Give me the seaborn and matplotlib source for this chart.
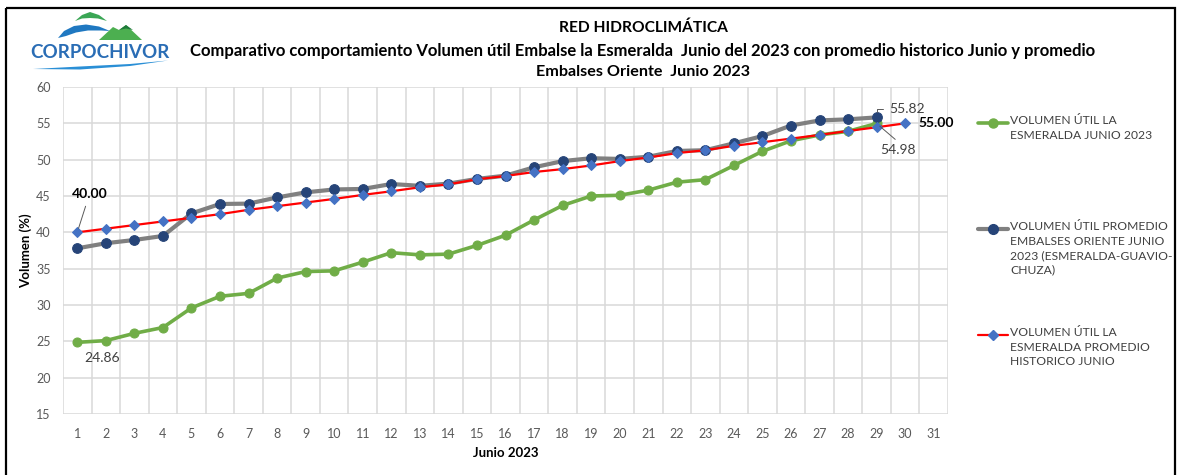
import seaborn as sns
import matplotlib.pyplot as plt
import pandas as pd
from matplotlib.lines import Line2D
from matplotlib.patches import Polygon, Rectangle


dias = list(range(1, 32))

esmeralda_2023 = [24.86, 25.1, 26.1, 26.9, 29.6, 31.2, 31.6, 33.7, 34.6, 34.7,
                  35.9, 37.2, 36.9, 37.0, 38.2, 39.6, 41.7, 43.7, 45.0, 45.1,
                  45.8, 46.9, 47.25, 49.2, 51.15, 52.6, 53.4, 53.9, 54.98]
oriente_2023 = [37.8, 38.5, 38.95, 39.5, 42.6, 43.9, 43.95, 44.8, 45.5, 45.9,
                45.97, 46.65, 46.4, 46.7, 47.35, 47.8, 48.95, 49.8, 50.2, 50.1,
                50.4, 51.2, 51.3, 52.25, 53.25, 54.7, 55.4, 55.55, 55.82]
historico_junio = [40.0, 40.5, 41.0, 41.5, 42.0, 42.5, 43.1, 43.6, 44.1, 44.6,
                   45.15, 45.65, 46.2, 46.6, 47.3, 47.75, 48.3, 48.7, 49.2, 49.8,
                   50.3, 50.9, 51.3, 51.9, 52.4, 52.9, 53.4, 53.95, 54.46, 55.0]

etiquetas = [
    'VOLUMEN ÚTIL LA\nESMERALDA JUNIO 2023',
    'VOLUMEN ÚTIL PROMEDIO\nEMBALSES ORIENTE JUNIO\n2023 (ESMERALDA-GUAVIO-\nCHUZA)',
    'VOLUMEN ÚTIL LA\nESMERALDA PROMEDIO\nHISTORICO JUNIO',
]

titulo = ['RED HIDROCLIMÁTICA',
          'Comparativo comportamiento Volumen útil Embalse la Esmeralda  Junio del 2023 '
          'con promedio historico Junio y promedio',
          'Embalses Oriente  Junio 2023']

df_esm = pd.DataFrame({'dia': dias[:len(esmeralda_2023)], 'valor': esmeralda_2023})
df_ori = pd.DataFrame({'dia': dias[:len(oriente_2023)], 'valor': oriente_2023})
df_his = pd.DataFrame({'dia': dias[:len(historico_junio)], 'valor': historico_junio})

sns.set_theme(style='white')
plt.rcParams['font.family'] = ['Lato', 'DejaVu Sans']

W, H = 1182, 475
fig = plt.figure(figsize=(W / 100, H / 100), dpi=100)

# overlay in pixel coords for frame, logo and legend
bg = fig.add_axes([0, 0, 1, 1], zorder=0)
bg.set_xlim(0, W)
bg.set_ylim(H, 0)
bg.axis('off')
bg.patch.set_alpha(0)

ax = fig.add_axes([63 / W, 1 - 414 / H, (948 - 63) / W, (414 - 87) / H], zorder=1)

estilos = [
    (df_esm, dict(color='#70ad47', linewidth=2.6, marker='o', markersize=6.5,
                  markerfacecolor='#70ad47', markeredgecolor='#70ad47')),
    (df_ori, dict(color='#808080', linewidth=3.0, marker='o', markersize=7,
                  markerfacecolor='#264478', markeredgecolor='#264478')),
    (df_his, dict(color='#ff0000', linewidth=1.6, marker='D', markersize=5,
                  markerfacecolor='#4472c4', markeredgecolor='#4472c4')),
]
for data, kw in estilos:
    sns.lineplot(data=data, x='dia', y='valor', ax=ax, **kw)

ax.set_xlim(0.5, 31.5)
ax.set_ylim(15, 60)
ax.set_xticks(dias)
ax.set_xticks([d + 0.5 for d in [0] + dias], minor=True)
ax.set_yticks(range(15, 61, 5))
ax.grid(True, which='major', axis='y', color='#d9d9d9', linewidth=1.1)
ax.grid(True, which='minor', axis='x', color='#d9d9d9', linewidth=1.1)
ax.grid(False, which='major', axis='x')
ax.set_axisbelow(True)
for s in ax.spines.values():
    s.set_visible(False)
ax.tick_params(which='both', length=0)
ax.tick_params(axis='x', pad=10, labelsize=9, labelcolor='#595959')
ax.tick_params(axis='y', pad=9, labelsize=9, labelcolor='#595959')
ax.set_xlabel('Junio 2023', fontsize=9.5, fontweight='bold', color='black', labelpad=5)
ax.set_ylabel('Volumen (%)', fontsize=9.5, fontweight='bold', color='black', labelpad=3)

# data labels
txt = dict(textcoords='offset pixels', fontsize=10, color='#404040')
linea = dict(arrowstyle='-', color='#595959', lw=0.7)
ax.annotate(f'{historico_junio[0]:.2f}', (1, historico_junio[0]), xytext=(12, 38),
            ha='center', va='center', fontweight='bold', **{**txt, 'color': 'black'},
            arrowprops=dict(**linea, relpos=(0.45, 0), shrinkA=2, shrinkB=3))
ax.annotate(f'{esmeralda_2023[0]:.2f}', (1, esmeralda_2023[0]), xytext=(25, -16),
            ha='center', va='center', **txt)
ax.annotate(f'{oriente_2023[-1]:.2f}', (29, oriente_2023[-1]), xytext=(30, 8),
            ha='center', va='center', **txt,
            arrowprops=dict(**linea, relpos=(0, 0.5), shrinkA=2, shrinkB=4,
                            connectionstyle='angle,angleA=0,angleB=90,rad=0'))
ax.annotate(f'{historico_junio[-1]:.2f}', (30, historico_junio[-1]), xytext=(13, 0),
            ha='left', va='center', fontweight='bold', **{**txt, 'color': 'black'})
ax.annotate(f'{esmeralda_2023[-1]:.2f}', (29, esmeralda_2023[-1]), xytext=(21, -27),
            ha='center', va='center', **txt,
            arrowprops=dict(**linea, relpos=(0.6, 1), shrinkA=2, shrinkB=3))

# titles
for y, t, fs in zip([28, 51, 72], titulo, [11.2, 12.0, 11.6]):
    bg.text(643, y, t, ha='center', va='center', fontsize=fs, fontweight='bold',
            color='black')

# legend drawn by hand so the marker sits on the first text line
for (data, kw), lab, y in zip(estilos, etiquetas, [123, 229, 335]):
    bg.add_line(Line2D([978, 1008], [y, y], **{**kw, 'marker': 'none'}))
    bg.add_line(Line2D([993], [y], **{**kw, 'linestyle': 'none'}))
    bg.text(1010, y - 7.5, lab, ha='left', va='top', fontsize=8.7, color='#404040',
            linespacing=1.37)

# logo
bg.add_patch(Polygon([(75, 21), (82, 15), (90, 12), (99, 15), (107, 21), (98, 18.5),
                      (90, 18), (82, 18.5)], closed=True, color='#3aa655', lw=0))
bg.add_patch(Polygon([(58, 38), (64, 31), (74, 26), (86, 24.5), (99, 26.5), (110, 31),
                      (101, 30.5), (88, 30.5), (76, 32.5), (66, 36)], closed=True,
                     color='#1f78c1', lw=0))
bg.add_patch(Polygon([(99, 40), (113, 27), (119, 30), (126, 25), (142, 40)],
                     closed=True, color='#4caf50', lw=0))
bg.add_patch(Polygon([(119, 30), (126, 25), (133, 30), (126, 28.5)], closed=True,
                     color='#1e7a3a', lw=0))
bg.text(100, 53, 'CORPOCHIVOR', ha='center', va='center', fontsize=13.5,
        fontweight='bold', color='#2a6db5')
bg.add_patch(Polygon([(33, 69), (80, 66.5), (130, 64), (168, 60.5), (130, 66),
                      (80, 69.5)], closed=True, color='#2a8fd6', lw=0))

# outer frame
bg.add_patch(Rectangle((5.5, 8), 1169, 470, fill=False, edgecolor='black', lw=1.6))

fig.savefig('out.png', dpi=100)
